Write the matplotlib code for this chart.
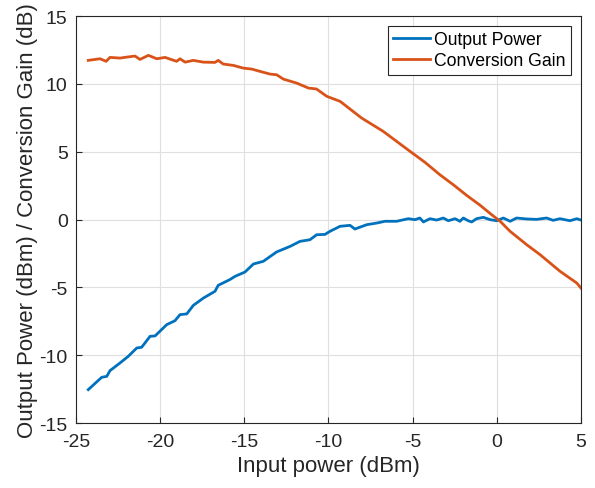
import numpy as np
import matplotlib.pyplot as plt

plt.rcParams['font.family'] = ['Liberation Sans', 'DejaVu Sans']
plt.rcParams['axes.unicode_minus'] = False

# Output power (dBm)
pout_x = [-24.27, -23.47, -23.17, -22.98, -22.38, -21.89, -21.39, -21.10, -20.60, -20.30,
          -19.61, -19.12, -18.82, -18.42, -18.03, -17.43, -16.74, -16.55, -15.86, -15.55,
          -14.96, -14.46, -13.87, -13.08, -12.28, -11.69, -11.10, -10.70, -10.21, -9.91,
          -9.31, -8.72, -8.43, -7.72, -7.13, -6.64, -5.95, -5.26, -4.86, -4.57,
          -4.36, -3.97, -3.57, -3.18, -2.88, -2.48, -2.19, -1.99, -1.70, -1.49,
          -1.20, -0.80, -0.40, -0.01, 0.39, 0.79, 1.18, 1.77, 2.37, 2.96,
          3.35, 3.75, 4.35, 4.75, 5.0]
pout_y = [-12.54, -11.63, -11.56, -11.14, -10.57, -10.08, -9.47, -9.42, -8.61, -8.58,
          -7.75, -7.46, -7.01, -6.96, -6.33, -5.79, -5.29, -4.85, -4.43, -4.19,
          -3.87, -3.28, -3.08, -2.39, -1.98, -1.61, -1.49, -1.12, -1.1, -0.87,
          -0.5, -0.43, -0.7, -0.38, -0.26, -0.13, -0.13, 0.06, -0.01, 0.11,
          -0.18, 0.06, -0.04, 0.11, -0.09, 0.06, -0.13, 0.11, -0.09, -0.18,
          0.06, 0.16, -0.01, -0.09, 0.11, -0.13, 0.11, 0.04, 0.01, 0.11,
          -0.06, 0.06, -0.09, 0.06, -0.04]

# Conversion gain (dB)
gain_x = [-24.27, -23.57, -23.21, -22.98, -22.38, -21.99, -21.49, -21.20, -20.70, -20.20,
          -19.71, -19.02, -18.82, -18.52, -18.03, -17.43, -16.74, -16.55, -16.25, -15.65,
          -15.06, -14.56, -14.07, -13.47, -13.08, -12.68, -11.90, -11.19, -10.71, -10.10,
          -9.31, -8.03, -6.75, -5.95, -5.16, -4.26, -3.38, -2.58, -1.79, -0.99,
          -0.30, 0.20, 0.79, 1.78, 2.57, 3.76, 4.75, 5.0]
gain_y = [11.73, 11.85, 11.66, 11.95, 11.9, 11.97, 12.05, 11.8, 12.1, 11.85,
          11.95, 11.66, 11.85, 11.6, 11.73, 11.6, 11.58, 11.73, 11.46, 11.36,
          11.16, 11.09, 10.92, 10.72, 10.67, 10.35, 10.06, 9.69, 9.62, 9.08,
          8.71, 7.48, 6.5, 5.76, 5.03, 4.21, 3.3, 2.56, 1.78, 1.05,
          0.35, -0.13, -0.87, -1.86, -2.59, -3.82, -4.68, -5.05]

fig = plt.figure(figsize=(5.95, 4.89), dpi=100)
ax = fig.add_axes([0.1277, 0.1329, 0.8487, 0.8323])

ax.plot(pout_x, pout_y, color='#0072BD', lw=2, label='Output Power')
ax.plot(gain_x, gain_y, color='#D95319', lw=2, label='Conversion Gain')

ax.set_xlim(-25, 5)
ax.set_ylim(-15, 15)
ax.set_xticks(np.arange(-25, 6, 5))
ax.set_yticks(np.arange(-15, 16, 5))
ax.grid(True, color='#dfdfdf', lw=0.8)
ax.set_axisbelow(True)
ax.tick_params(direction='in', labelsize=14, colors='#262626', length=4)
ax.tick_params(axis='x', pad=7)
ax.tick_params(axis='y', pad=6)
for s in ax.spines.values():
    s.set_color('#262626')
    s.set_linewidth(0.8)

ax.set_xlabel('Input power (dBm)', fontsize=16, color='#262626', labelpad=4)
ax.set_ylabel('Output Power (dBm) / Conversion Gain (dB)', fontsize=16, color='#262626', labelpad=1)

leg = ax.legend(loc='upper right', fontsize=12.7, fancybox=False, framealpha=1,
                edgecolor='#262626', handlelength=2.1, borderpad=0.3, labelspacing=0.25,
                handletextpad=0.25, borderaxespad=0.55)
leg.get_frame().set_linewidth(0.8)

fig.savefig('out.png', dpi=100)
